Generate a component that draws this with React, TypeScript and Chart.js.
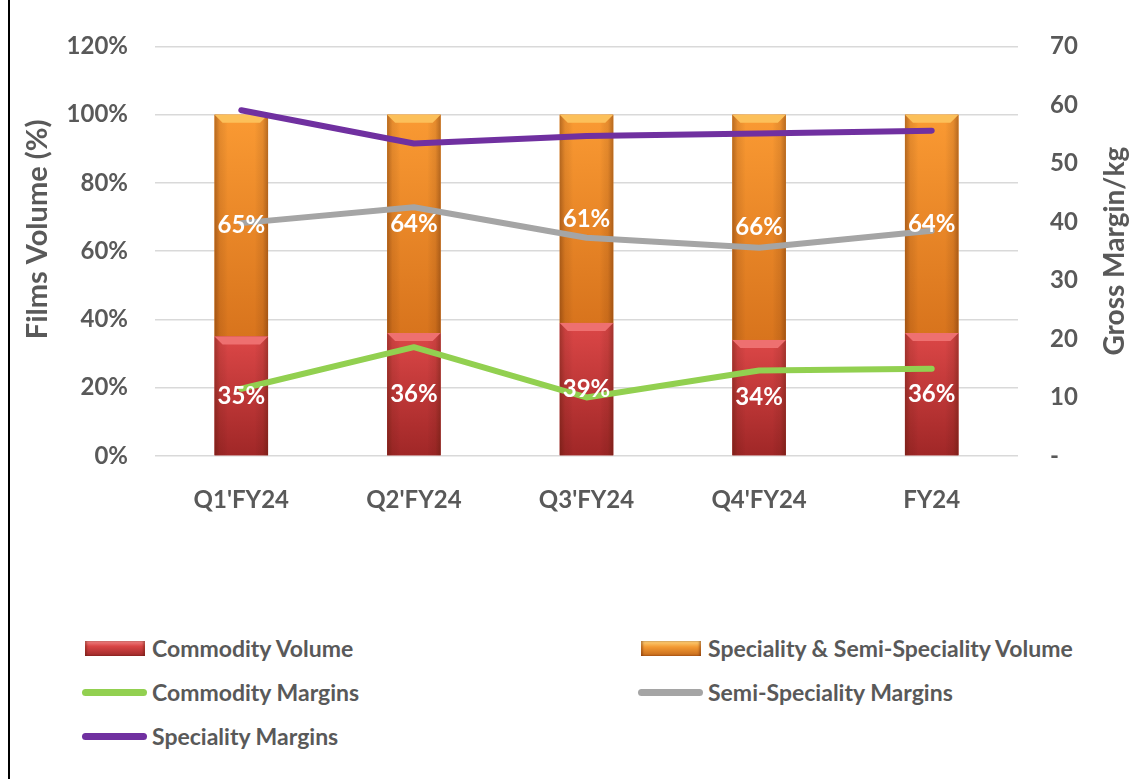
import React, { useEffect, useRef } from 'react';
import { Chart, registerables } from 'chart.js';
Chart.register(...registerables);

const categories = ["Q1'FY24", "Q2'FY24", "Q3'FY24", "Q4'FY24", "FY24"];
const commodityVolume = [35, 36, 39, 34, 36];
const specialityVolume = [65, 64, 61, 66, 64];
const commodityMargins = [11.5, 18.6, 10.0, 14.6, 14.9];
const semiSpecialityMargins = [39.8, 42.5, 37.3, 35.6, 38.5];
const specialityMargins = [59.1, 53.4, 54.7, 55.1, 55.6];
const leftAxisTitle = 'Films Volume (%)';
const rightAxisTitle = 'Gross Margin/kg';

const FONT = 'Lato, "Open Sans", sans-serif';
const TEXT = '#595959';

const barStyles: Record<string, { top: string; bottom: string; bevel: string }> = {
  red: { top: '#dc4747', bottom: '#a02727', bevel: '#ee7070' },
  orange: { top: '#fa9a33', bottom: '#d8741d', bevel: '#fcc05a' },
};

const shadingPlugin = {
  id: 'barShading',
  afterDatasetDraw(chart: any, args: any) {
    const meta = args.meta;
    if (meta.type !== 'bar') return;
    const style = barStyles[chart.data.datasets[args.index].shade];
    if (!style) return;
    const ctx = chart.ctx;
    ctx.save();
    meta.data.forEach((el: any) => {
      const { x, y, base, width } = el.getProps(['x', 'y', 'base', 'width'], true);
      const left = x - width / 2;
      const top = Math.min(y, base);
      const h = Math.abs(base - y);
      const vg = ctx.createLinearGradient(0, top, 0, top + h);
      vg.addColorStop(0, style.top);
      vg.addColorStop(1, style.bottom);
      ctx.fillStyle = vg;
      ctx.fillRect(left, top, width, h);
      const hg = ctx.createLinearGradient(left, 0, left + width, 0);
      hg.addColorStop(0, 'rgba(60,20,0,0.35)');
      hg.addColorStop(0.1, 'rgba(60,20,0,0.1)');
      hg.addColorStop(0.25, 'rgba(0,0,0,0)');
      hg.addColorStop(0.75, 'rgba(0,0,0,0)');
      hg.addColorStop(0.9, 'rgba(60,20,0,0.1)');
      hg.addColorStop(1, 'rgba(60,20,0,0.35)');
      ctx.fillStyle = hg;
      ctx.fillRect(left, top, width, h);
      const b = 8;
      ctx.beginPath();
      ctx.moveTo(left, top);
      ctx.lineTo(left + width, top);
      ctx.lineTo(left + width - b, top + b);
      ctx.lineTo(left + b, top + b);
      ctx.closePath();
      ctx.fillStyle = style.bevel;
      ctx.fill();
    });
    ctx.restore();
  },
};

const labelPlugin = {
  id: 'labelsAndTitles',
  afterDatasetsDraw(chart: any) {
    const ctx = chart.ctx;
    ctx.save();
    ctx.font = `bold 24px ${FONT}`;
    ctx.fillStyle = '#ffffff';
    ctx.textAlign = 'center';
    ctx.textBaseline = 'middle';
    chart.data.datasets.forEach((ds: any, i: number) => {
      if (ds.type !== 'bar') return;
      const meta = chart.getDatasetMeta(i);
      meta.data.forEach((el: any, j: number) => {
        const { x, y, base } = el.getProps(['x', 'y', 'base'], true);
        ctx.fillText(`${ds.data[j]}%`, x, (y + base) / 2);
      });
    });
    ctx.restore();
  },
  afterDraw(chart: any) {
    const ctx = chart.ctx;
    const area = chart.chartArea;
    ctx.save();
    ctx.font = `bold 29px ${FONT}`;
    ctx.fillStyle = TEXT;
    ctx.textAlign = 'center';
    ctx.textBaseline = 'middle';
    ctx.translate(38, area.top + 183);
    ctx.rotate(-Math.PI / 2);
    ctx.fillText(leftAxisTitle, 0, 0);
    ctx.restore();
    ctx.save();
    ctx.font = `bold 28px ${FONT}`;
    ctx.fillStyle = TEXT;
    ctx.textAlign = 'center';
    ctx.textBaseline = 'middle';
    ctx.translate(chart.width - 17, (area.top + area.bottom) / 2);
    ctx.rotate(-Math.PI / 2);
    ctx.fillText(rightAxisTitle, 0, 0);
    ctx.restore();
  },
};

const legendItems = [
  { label: 'Commodity Volume', kind: 'bar', color: 'linear-gradient(#f08585 0%, #d94545 35%, #9e2a2a 100%)', col: 0, row: 0 },
  { label: 'Speciality & Semi-Speciality Volume', kind: 'bar', color: 'linear-gradient(#fdd27a 0%, #f39a33 40%, #c4691b 100%)', col: 1, row: 0 },
  { label: 'Commodity Margins', kind: 'line', color: '#92d050', col: 0, row: 1 },
  { label: 'Semi-Speciality Margins', kind: 'line', color: '#a5a5a5', col: 1, row: 1 },
  { label: 'Speciality Margins', kind: 'line', color: '#7030a0', col: 0, row: 2 },
];

export default function App() {
  const ref = useRef<HTMLCanvasElement>(null);
  useEffect(() => {
    if (!ref.current) return;
    const tickFont = { family: FONT, size: 24, weight: 'bold' };
    const chart = new Chart(ref.current, {
      type: 'bar',
      data: {
        labels: categories,
        datasets: [
          { type: 'line', label: 'Speciality Margins', data: specialityMargins, yAxisID: 'y1', borderColor: '#7030a0', backgroundColor: '#7030a0', borderWidth: 6, pointRadius: 0, borderCapStyle: 'round', borderJoinStyle: 'round', tension: 0, order: 0 } as any,
          { type: 'line', label: 'Semi-Speciality Margins', data: semiSpecialityMargins, yAxisID: 'y1', borderColor: '#a5a5a5', backgroundColor: '#a5a5a5', borderWidth: 6, pointRadius: 0, borderCapStyle: 'round', borderJoinStyle: 'round', tension: 0, order: 0 } as any,
          { type: 'line', label: 'Commodity Margins', data: commodityMargins, yAxisID: 'y1', borderColor: '#92d050', backgroundColor: '#92d050', borderWidth: 6, pointRadius: 0, borderCapStyle: 'round', borderJoinStyle: 'round', tension: 0, order: 0 } as any,
          { type: 'bar', label: 'Commodity Volume', data: commodityVolume, yAxisID: 'y', backgroundColor: '#c43a3a', shade: 'red', stack: 'v', barPercentage: 0.31, categoryPercentage: 1, order: 1 } as any,
          { type: 'bar', label: 'Speciality & Semi-Speciality Volume', data: specialityVolume, yAxisID: 'y', backgroundColor: '#ea8a2a', shade: 'orange', stack: 'v', barPercentage: 0.31, categoryPercentage: 1, order: 1 } as any,
        ],
      },
      options: {
        responsive: false,
        animation: false,
        devicePixelRatio: 1,
        layout: { padding: { top: 43, left: 0, right: 0, bottom: 0 } },
        plugins: { legend: { display: false }, tooltip: { enabled: false } },
        scales: {
          x: {
            stacked: true,
            grid: { display: false },
            border: { display: false },
            ticks: { color: TEXT, font: tickFont, padding: 22 },
            afterFit: (s: any) => { s.height = 84; },
          },
          y: {
            stacked: true,
            position: 'left',
            min: 0,
            max: 120,
            ticks: { stepSize: 20, color: TEXT, font: tickFont, padding: 27, callback: (v: any) => `${v}%` },
            grid: { color: '#d9d9d9', lineWidth: 1.5, drawTicks: false },
            border: { display: false },
            afterFit: (s: any) => { s.width = 155; },
          },
          y1: {
            position: 'right',
            min: 0,
            max: 70,
            ticks: { stepSize: 10, color: TEXT, font: tickFont, padding: 32, callback: (v: any) => (v === 0 ? '-' : String(v)) },
            grid: { drawOnChartArea: false, drawTicks: false },
            border: { display: false },
            afterFit: (s: any) => { s.width = 114; },
          },
        },
      } as any,
      plugins: [shadingPlugin, labelPlugin],
    });
    return () => chart.destroy();
  }, []);

  const rowY = [648, 692, 736];
  const colX = [82, 638];

  return (
    <div style={{ position: 'absolute', left: 0, top: 0, width: 1132, height: 779, background: '#fff', overflow: 'hidden' }}>
      <div style={{ position: 'absolute', left: 8, top: 0, width: 2, height: 779, background: '#000' }} />
      <canvas ref={ref} width={1132} height={540} style={{ position: 'absolute', left: 0, top: 0, width: 1132, height: 540 }} />
      {legendItems.map((it) => (
        <div key={it.label} style={{ position: 'absolute', left: colX[it.col], top: rowY[it.row] - 16, height: 32, display: 'flex', alignItems: 'center', fontFamily: FONT, fontWeight: 'bold', fontSize: 23, color: TEXT, whiteSpace: 'nowrap' }}>
          {it.kind === 'bar' ? (
            <div style={{ width: 60, height: 15, marginLeft: 3, marginRight: 7, background: it.color, boxShadow: 'inset 2px 0 2px rgba(80,20,0,0.35), inset -2px 0 2px rgba(80,20,0,0.35)' }} />
          ) : (
            <div style={{ width: 65, height: 7, marginRight: 5, background: it.color, borderRadius: 4 }} />
          )}
          <span>{it.label}</span>
        </div>
      ))}
    </div>
  );
}
